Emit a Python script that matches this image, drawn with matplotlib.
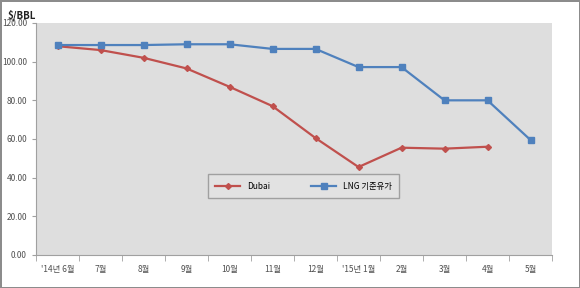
import matplotlib
matplotlib.use('Agg')
import matplotlib.pyplot as plt
import numpy as np

plt.rcParams['font.family'] = ['Noto Sans CJK KR', 'DejaVu Sans']

months = ["'14년 6월", "7월", "8월", "9월", "10월", "11월", "12월",
          "'15년 1월", "2월", "3월", "4월", "5월"]
dubai = [108.0, 106.0, 102.0, 96.5, 87.0, 77.0, 60.5, 45.5, 55.5, 55.0, 56.0]
lng = [108.6, 108.6, 108.6, 109.0, 109.0, 106.6, 106.6, 97.2, 97.2, 80.0, 80.0, 59.5]

fig = plt.figure(figsize=(5.8, 2.88), dpi=100)
fig.patch.set_facecolor('white')
fig.patch.set_edgecolor('#8c8c8c')
fig.patch.set_linewidth(2)

ax = fig.add_axes([36 / 580, 33 / 288, 516 / 580, 232 / 288])
ax.set_facecolor('#dedede')

x = np.arange(len(months))
ax.plot(x[:len(dubai)], dubai, color='#c0504d', lw=1.6, marker='D', ms=3,
        label='Dubai')
ax.plot(x, lng, color='#4f81bd', lw=1.6, marker='s', ms=5, label='LNG 기준유가')

ax.set_xlim(-0.5, len(months) - 0.5)
ax.set_ylim(0, 120)
ax.set_yticks(np.arange(0, 121, 20))
ax.set_yticklabels(['%.2f' % v for v in np.arange(0, 121, 20)])
ax.set_xticks(x)
ax.set_xticklabels(months)
ax.set_xticks(np.arange(-0.5, len(months), 1), minor=True)
ax.tick_params(axis='x', which='major', length=0, pad=7, labelsize=6, colors='#505050')
ax.tick_params(axis='x', which='minor', length=4, color='#a0a0a0')
ax.tick_params(axis='y', length=3, color='#a0a0a0', labelsize=6, colors='#505050')

for s in ['top', 'right']:
    ax.spines[s].set_visible(False)
ax.spines['left'].set_color('#a0a0a0')
ax.spines['bottom'].set_color('#a0a0a0')

leg = ax.legend(loc='center', bbox_to_anchor=(0.328, 0.233, 0.381, 0.125),
                ncol=2, fontsize=6, frameon=True, fancybox=False,
                handlelength=3, columnspacing=5, borderpad=0.9)
leg.get_frame().set_facecolor('#e4e4e4')
leg.get_frame().set_edgecolor('#909090')

fig.text(8 / 580, 1 - 15 / 288, '$/BBL', fontsize=7, fontweight='bold',
         color='#222222', va='center')

fig.savefig('out.png', dpi=100)
